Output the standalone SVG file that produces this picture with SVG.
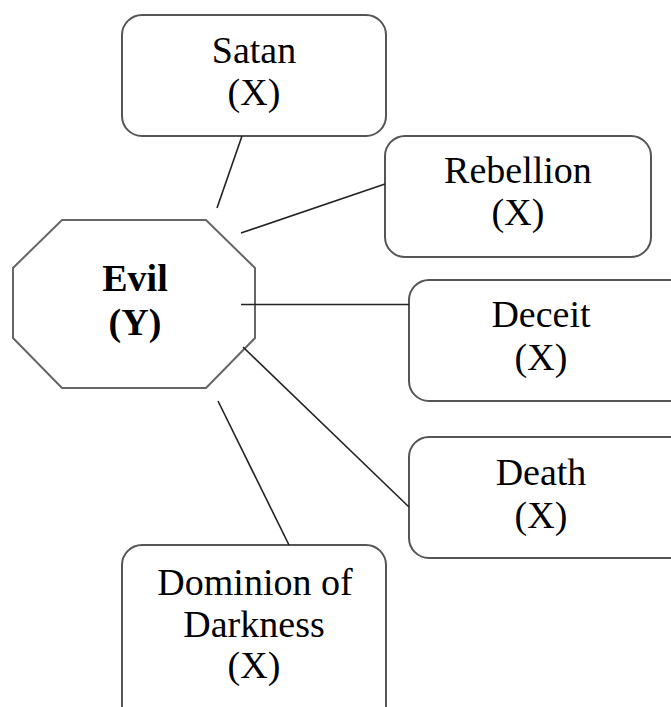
<svg xmlns="http://www.w3.org/2000/svg" width="671" height="707" viewBox="0 0 671 707">
  <style>
    .box { fill: #ffffff; stroke: #555555; stroke-width: 2; }
    .hub { fill: #ffffff; stroke: #666666; stroke-width: 2; }
    .link { stroke: #222222; stroke-width: 1.6; fill: none; }
    text { font-size: 38px; fill: #000000; text-anchor: middle; }
    .bold { font-weight: bold; }
  </style>
  <rect width="671" height="707" fill="#ffffff"/>

  <g font-family="Liberation Serif, Times New Roman, serif">
    <g id="evil">
      <polygon class="hub" points="62,220 206,220 255,268 255,338 206,388 62,388 13,338 13,268"/>
      <text class="bold" x="135" y="291">Evil</text>
      <text class="bold" x="135" y="335">(Y)</text>
    </g>

    <g id="satan">
      <rect class="box" x="122" y="15" width="264" height="121" rx="20"/>
      <text x="254" y="63">Satan</text>
      <text x="254" y="105">(X)</text>
    </g>

    <g id="rebellion">
      <rect class="box" x="385" y="136" width="266" height="121" rx="20"/>
      <text x="518" y="183">Rebellion</text>
      <text x="518" y="225">(X)</text>
    </g>

    <g id="deceit">
      <rect class="box" x="409" y="280" width="280" height="121" rx="20"/>
      <text x="541" y="327">Deceit</text>
      <text x="541" y="370">(X)</text>
    </g>

    <g id="death">
      <rect class="box" x="409" y="437" width="280" height="121" rx="20"/>
      <text x="541" y="485">Death</text>
      <text x="541" y="528">(X)</text>
    </g>

    <g id="dominion">
      <rect class="box" x="122" y="545" width="264" height="190" rx="20"/>
      <text x="255" y="595">Dominion of</text>
      <text x="254" y="637">Darkness</text>
      <text x="254" y="678">(X)</text>
    </g>
  </g>

  <!-- links drawn last so their inner ends show over the hub outline -->
  <g id="connectors">
    <line class="link" x1="242" y1="136" x2="217" y2="208"/>
    <line class="link" x1="385" y1="184" x2="241" y2="233"/>
    <line class="link" x1="241" y1="304.5" x2="409" y2="304.5"/>
    <line class="link" x1="243" y1="347" x2="409" y2="507"/>
    <line class="link" x1="218" y1="401" x2="289" y2="545"/>
  </g>
</svg>
